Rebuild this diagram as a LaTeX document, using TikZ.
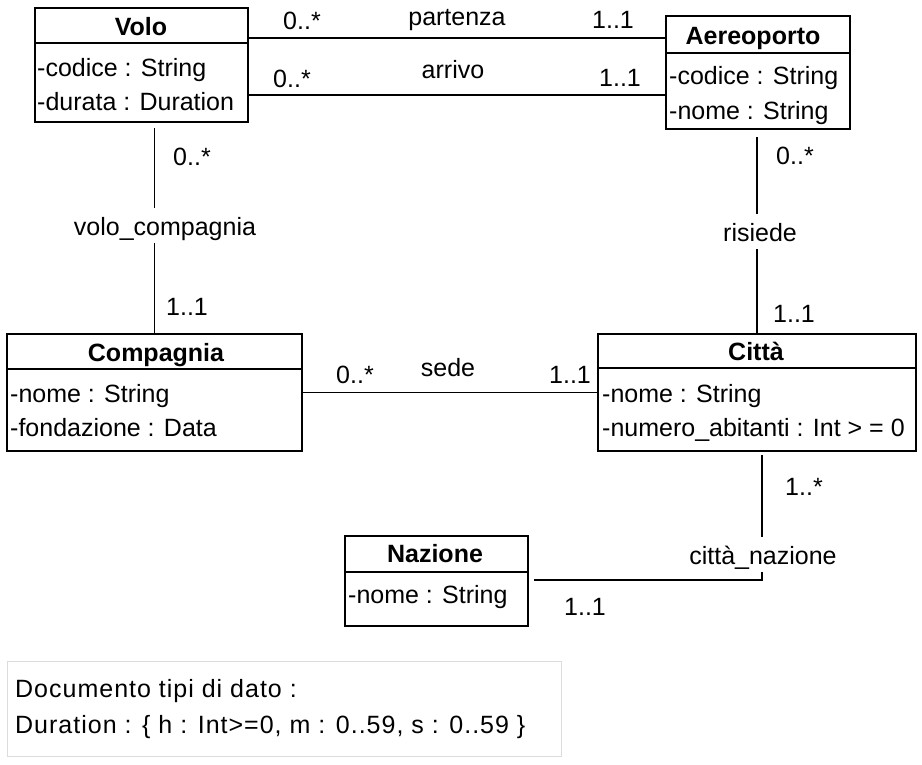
\documentclass[tikz,border=0pt]{standalone}
\usepackage{fontspec}
\setmainfont{Liberation Sans}
\newfontfamily\notefont[LetterSpace=4]{Liberation Sans}
\usetikzlibrary{calc}

\begin{document}
\begin{tikzpicture}[x=1pt,y=1pt,yscale=-1,xscale=1,
  classbox/.style={draw, line width=2.6, inner sep=0pt, outer sep=0pt},
  divider/.style={line width=2},
  assoc/.style={line width=1.6},
  classname/.style={anchor=base, inner sep=0pt, font=\fontsize{25}{29}\selectfont\bfseries},
  attr/.style={anchor=base west, inner sep=0pt, font=\fontsize{25}{29}\selectfont},
  mult/.style={anchor=base, inner sep=0pt, font=\fontsize{25}{29}\selectfont},
  assoclabel/.style={mult, fill=white, text height=27, text depth=8},
  notebox/.style={draw={rgb, 255:red, 220; green, 220; blue, 220}, line width=1, inner sep=0pt},
  notetext/.style={anchor=base west, inner sep=0pt, font=\fontsize{25}{36}\notefont}
]
\useasboundingbox (0,0) rectangle (922,764);

%Shape: Rectangle (Volo)
\node [classbox, minimum width=213, minimum height=114] (volo) at (141.5,65) {};
\draw [divider] ($(volo.north west)+(0,35)$) -- ($(volo.north east)+(0,35)$);
\node [classname] (volo-name) at (141,35) {Volo};
\node [attr] (volo-codice) at (37,76) {-codice : String};
\node [attr] (volo-durata) at (37,110) {-durata : Duration};

%Shape: Rectangle (Aereoporto)
\node [classbox, minimum width=184, minimum height=113] (aereo) at (758,72.5) {};
\draw [divider] ($(aereo.north west)+(0,37)$) -- ($(aereo.north east)+(0,37)$);
\node [classname] (aereo-name) at (753,44) {Aereoporto};
\node [attr] (aereo-codice) at (669,84) {-codice : String};
\node [attr] (aereo-nome) at (669,119) {-nome : String};

%Shape: Rectangle (Compagnia)
\node [classbox, minimum width=295, minimum height=117] (compagnia) at (154.5,392.5) {};
\draw [divider] ($(compagnia.north west)+(0,35)$) -- ($(compagnia.north east)+(0,35)$);
\node [classname] (compagnia-name) at (156,361) {Compagnia};
\node [attr] (compagnia-nome) at (10,402) {-nome : String};
\node [attr] (compagnia-fondazione) at (10,436) {-fondazione : Data};

%Shape: Rectangle (Citta)
\node [classbox, minimum width=318, minimum height=117] (citta) at (757,392.5) {};
\draw [divider] ($(citta.north west)+(0,34)$) -- ($(citta.north east)+(0,34)$);
\node [classname] (citta-name) at (756,360) {Città};
\node [attr] (citta-nome) at (602,402) {-nome : String};
\node [attr] (citta-abitanti) at (602,436) {-numero\_abitanti : Int > = 0};

%Shape: Rectangle (Nazione)
\node [classbox, minimum width=183, minimum height=90] (nazione) at (436.5,581) {};
\draw [divider] ($(nazione.north west)+(0,36)$) -- ($(nazione.north east)+(0,36)$);
\node [classname] (nazione-name) at (435,562) {Nazione};
\node [attr] (nazione-nome) at (348,603) {-nome : String};

%Straight Lines (partenza)
\draw [assoc] ($(volo.east)+(0,-27)$) coordinate (volo-p) -- (aereo.west |- volo-p);
\node [mult] (partenza) at (457,25) {partenza};
\node [mult] (partenza-volo) at (302,29) {0..*};
\node [mult] (partenza-aereo) at (613,28) {1..1};

%Straight Lines (arrivo)
\draw [assoc] ($(volo.east)+(0,30)$) coordinate (volo-a) -- (aereo.west |- volo-a);
\node [mult] (arrivo) at (453,78) {arrivo};
\node [mult] (arrivo-volo) at (292,87) {0..*};
\node [mult] (arrivo-aereo) at (620,86) {1..1};

%Straight Lines (volo_compagnia)
\draw [assoc, shorten <=6] (volo.south -| compagnia.north) -- (compagnia.north);
\node [assoclabel] (volo-compagnia) at (165,235) {volo\_compagnia};
\node [mult] (vc-volo) at (192,165) {0..*};
\node [mult] (vc-compagnia) at (187,315) {1..1};

%Straight Lines (risiede)
\draw [assoc, shorten <=8] (aereo.south -| citta.north) -- (citta.north);
\node [assoclabel] (risiede) at (760,241) {risiede};
\node [mult] (risiede-aereo) at (795,164) {0..*};
\node [mult] (risiede-citta) at (794,322) {1..1};

%Straight Lines (sede)
\draw [assoc] (compagnia.east) -- (citta.west);
\node [mult] (sede) at (448,376) {sede};
\node [mult] (sede-compagnia) at (355,383) {0..*};
\node [mult] (sede-citta) at (570,383) {1..1};

%Straight Lines (citta_nazione)
\draw [assoc] ($(citta.south)+(5,4)$) |- ($(nazione.east)+(6,-1)$);
\node [assoclabel] (citta-nazione) at (763,564) {città\_nazione};
\node [mult] (cn-citta) at (804,495) {1..*};
\node [mult] (cn-nazione) at (585,615) {1..1};

%Shape: Rectangle (nota)
\node [notebox, minimum width=554, minimum height=95] (nota) at (284,708.5) {};
% Text Node
\node [notetext] (nota-l1) at (15,697) {Documento tipi di dato :};
\node [notetext] (nota-l2) at (15,733) {Duration : \{ h : Int>=0, m : 0..59, s : 0..59 \}};
\end{tikzpicture}
\end{document}
